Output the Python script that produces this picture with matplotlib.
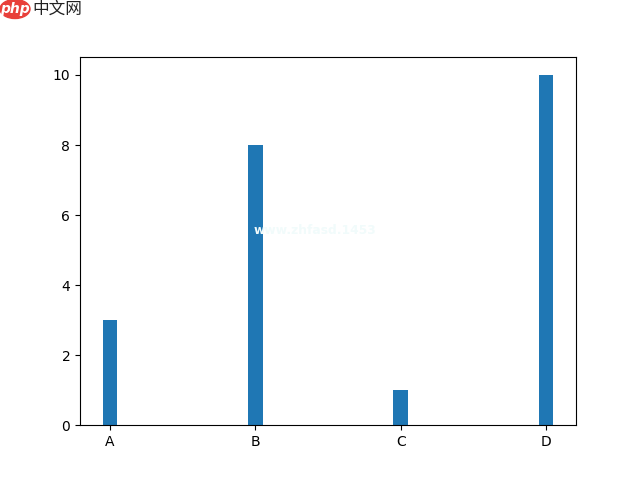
import matplotlib
matplotlib.use("Agg")
import matplotlib.pyplot as plt
from matplotlib.patches import Ellipse

categories = ["A", "B", "C", "D"]
values = [3, 8, 1, 10]

plt.rcParams["font.family"] = ["Noto Sans CJK SC", "DejaVu Sans"]

fig, ax = plt.subplots(figsize=(6.4, 4.78), dpi=100)
ax.bar(categories, values, width=0.1, color="#1f77b4")
for label in ax.get_xticklabels() + ax.get_yticklabels():
    label.set_family("DejaVu Sans")
ax.set_position([80 / 640, 52.6 / 478, 496 / 640, 368 / 478])

# site logo and watermark
fig.add_artist(Ellipse((15 / 640, 1 - 9 / 478), 30 / 640, 19 / 478, color="#e8403a"))
fig.text(15 / 640, 1 - 9 / 478, "php", color="white", fontsize=10, style="italic",
         ha="center", va="center", family="DejaVu Sans", weight="bold")
fig.text(32 / 640, 1 - 9 / 478, "中文网", color="#222222", fontsize=12, va="center", weight="medium")
fig.text(254 / 640, 1 - 230 / 478, "www.zhfasd.1453", color="#f1fbfb", fontsize=8.8,
         va="center", family="DejaVu Sans", weight="bold")

fig.savefig("out.png", dpi=100)
